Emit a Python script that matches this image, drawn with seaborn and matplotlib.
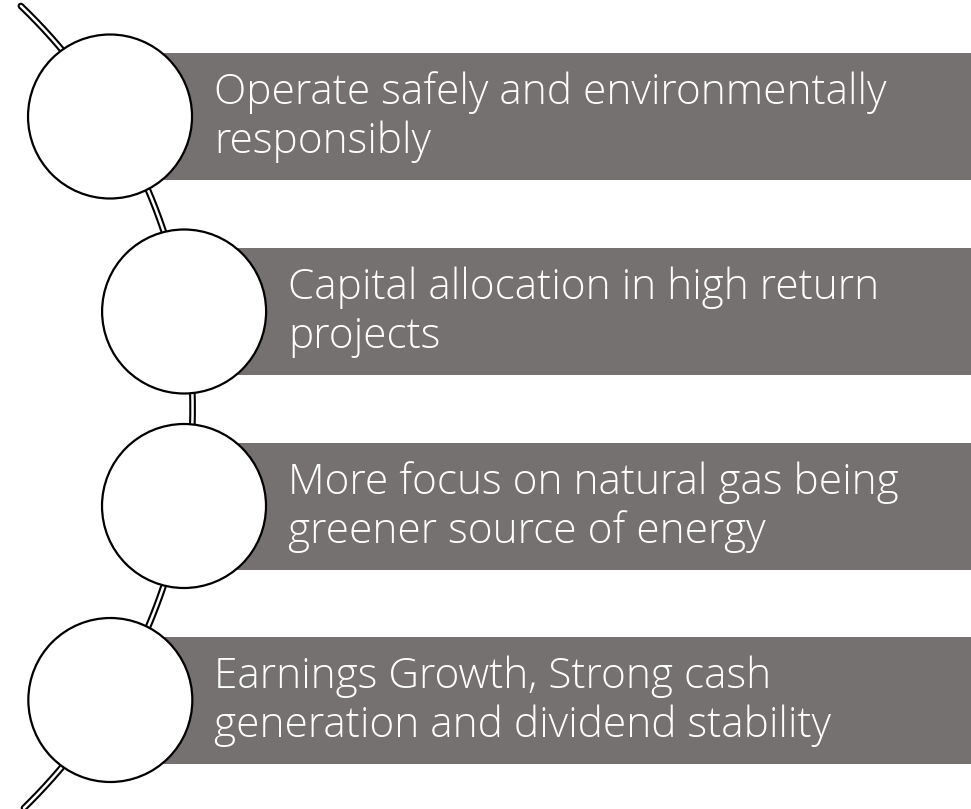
import numpy as np
import pandas as pd
import seaborn as sns
import matplotlib
matplotlib.use("Agg")
import matplotlib.pyplot as plt
from matplotlib.patches import Circle, Rectangle

# Diagram content
labels = [
    "Operate safely and environmentally\nresponsibly",
    "Capital allocation in high return\nprojects",
    "More focus on natural gas being\ngreener source of energy",
    "Earnings Growth, Strong cash\ngeneration and dividend stability",
]

box_color = "#767171"

sns.set_theme(style="white")
plt.rcParams["font.family"] = ["Open Sans", "DejaVu Sans"]

W, H = 971, 809
fig = plt.figure(figsize=(W / 100, H / 100), dpi=100)
ax = fig.add_axes([0, 0, 1, 1])
ax.set_xlim(0, W)
ax.set_ylim(H, 0)
ax.axis("off")

# big arc the circles sit on
arc_x0, arc_yc, arc_r = -365.0, 408.5, 557.6
ys = np.linspace(6, 808, 400)
arc = pd.DataFrame({"y": ys, "x": arc_x0 + np.sqrt(arc_r ** 2 - (ys - arc_yc) ** 2)})
sns.lineplot(data=arc, x="x", y="y", sort=False, color="black", lw=4.8, ax=ax, zorder=1)
sns.lineplot(data=arc, x="x", y="y", sort=False, color="white", lw=1.8, ax=ax, zorder=2)

# circle centres on the arc
cy = np.array([116.5, 311.5, 506.0, 700.0])
cx = arc_x0 + np.sqrt(arc_r ** 2 - (cy - arc_yc) ** 2)
rad = 82
box_h = 127

for i, lab in enumerate(labels):
    ax.add_patch(Rectangle((cx[i] + 52, cy[i] - box_h / 2), W, box_h,
                           facecolor=box_color, edgecolor="none", zorder=3))
    ax.add_patch(Circle((cx[i], cy[i]), rad, facecolor="white",
                        edgecolor="black", lw=1.6, zorder=4))
    ax.text(cx[i] + 104, cy[i] + 1, lab, color="white", fontsize=30.5,
            fontweight="light", va="center", ha="left", linespacing=1.2, zorder=5)

ax.set_xlim(0, W)
ax.set_ylim(H, 0)
ax.set_xlabel("")
ax.set_ylabel("")
fig.savefig("out.png", dpi=100)
